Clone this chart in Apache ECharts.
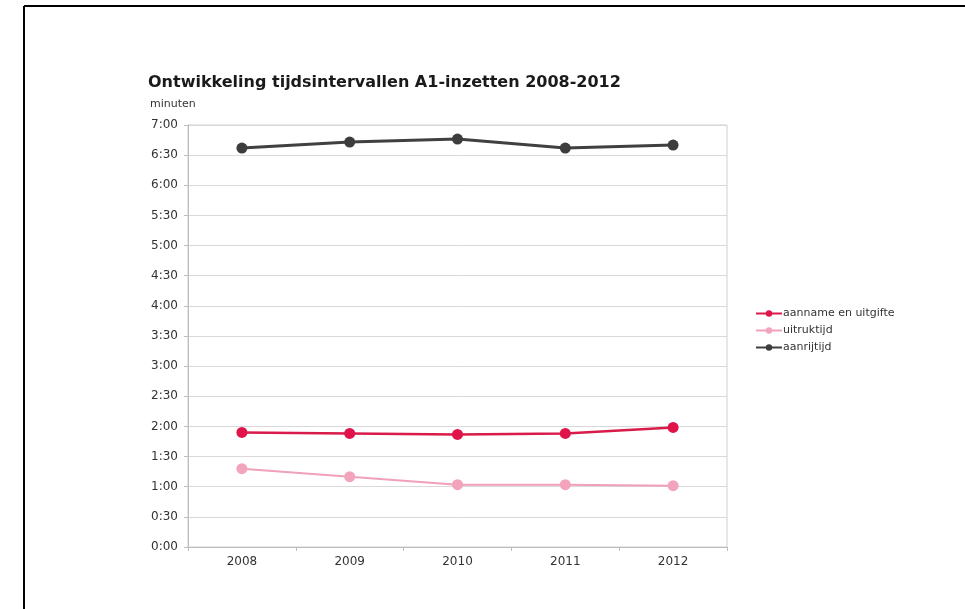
<!DOCTYPE html>
<html>
<head>
<meta charset="utf-8">
<script src="https://cdn.jsdelivr.net/npm/echarts@6/dist/echarts.min.js"></script>
<style>html,body{margin:0;padding:0;background:#fff}#c{width:965px;height:609px}</style>
</head>
<body>
<div id="c"></div>
<script>
// Data (values in seconds)
const years = ['2008', '2009', '2010', '2011', '2012'];
const aannameEnUitgifte = [114, 113, 112, 113, 119];
const uitruktijd = [78, 70, 62, 62, 61];
const aanrijtijd = [397, 403, 406, 397, 400];
const seriesNames = ['aanname en uitgifte', 'uitruktijd', 'aanrijtijd'];
const titleText = 'Ontwikkeling tijdsintervallen A1-inzetten 2008-2012';
const unitText = 'minuten';

function fmt(s) {
  const m = Math.floor(s / 60), r = Math.round(s % 60);
  return m + ':' + (r < 10 ? '0' : '') + r;
}

const font = 'DejaVu Sans';
const chart = echarts.init(document.getElementById('c'), null, {renderer: 'canvas'});
chart.setOption({
  animation: false,
  backgroundColor: '#fff',
  title: [
    {text: titleText, left: 143, top: 70,
     textStyle: {fontFamily: font, fontSize: 16, fontWeight: 'bold', color: '#1a1a1a'}},
    {text: unitText, left: 145, top: 94,
     textStyle: {fontFamily: font, fontSize: 11, fontWeight: 'normal', color: '#333'}}
  ],
  graphic: [
    {type: 'line', shape: {x1: 24, y1: 6, x2: 965, y2: 6}, style: {stroke: '#000', lineWidth: 2}},
    {type: 'line', shape: {x1: 24, y1: 6, x2: 24, y2: 609}, style: {stroke: '#000', lineWidth: 2}}
  ],
  legend: {
    orient: 'vertical', left: 750, top: 303,
    itemWidth: 26, itemHeight: 8, itemGap: 6,
    textStyle: {fontFamily: font, fontSize: 11, color: '#333', padding: [0, 0, 0, -4]},
    data: seriesNames
  },
  grid: {left: 188, right: 238, top: 125, bottom: 62, show: true, borderColor: '#cfcfcf', borderWidth: 1, backgroundColor: 'transparent'},
  xAxis: {
    type: 'category', data: years, boundaryGap: true,
    axisLine: {lineStyle: {color: '#bdbdbd'}},
    axisTick: {show: true, length: 4, lineStyle: {color: '#bdbdbd'}},
    axisLabel: {fontFamily: font, fontSize: 12, color: '#333', margin: 9}
  },
  yAxis: {
    type: 'value', min: 0, max: 420, interval: 30,
    axisLine: {show: true, lineStyle: {color: '#bdbdbd'}},
    axisTick: {show: true, length: 4, lineStyle: {color: '#bdbdbd'}},
    splitLine: {lineStyle: {color: '#d9d9d9'}},
    axisLabel: {fontFamily: font, fontSize: 12, color: '#333', margin: 10, formatter: fmt}
  },
  series: [
    {name: seriesNames[0], type: 'line', data: aannameEnUitgifte, symbol: 'circle', symbolSize: 11,
     lineStyle: {width: 2.5, color: '#d81b4a'}, itemStyle: {color: '#e0144a'}},
    {name: seriesNames[1], type: 'line', data: uitruktijd, symbol: 'circle', symbolSize: 11,
     lineStyle: {width: 2, color: '#f0a0b8'}, itemStyle: {color: '#f2a4bc'}},
    {name: seriesNames[2], type: 'line', data: aanrijtijd, symbol: 'circle', symbolSize: 11,
     lineStyle: {width: 3, color: '#404040'}, itemStyle: {color: '#3d3d3d'}}
  ]
});
</script>
</body>
</html>
